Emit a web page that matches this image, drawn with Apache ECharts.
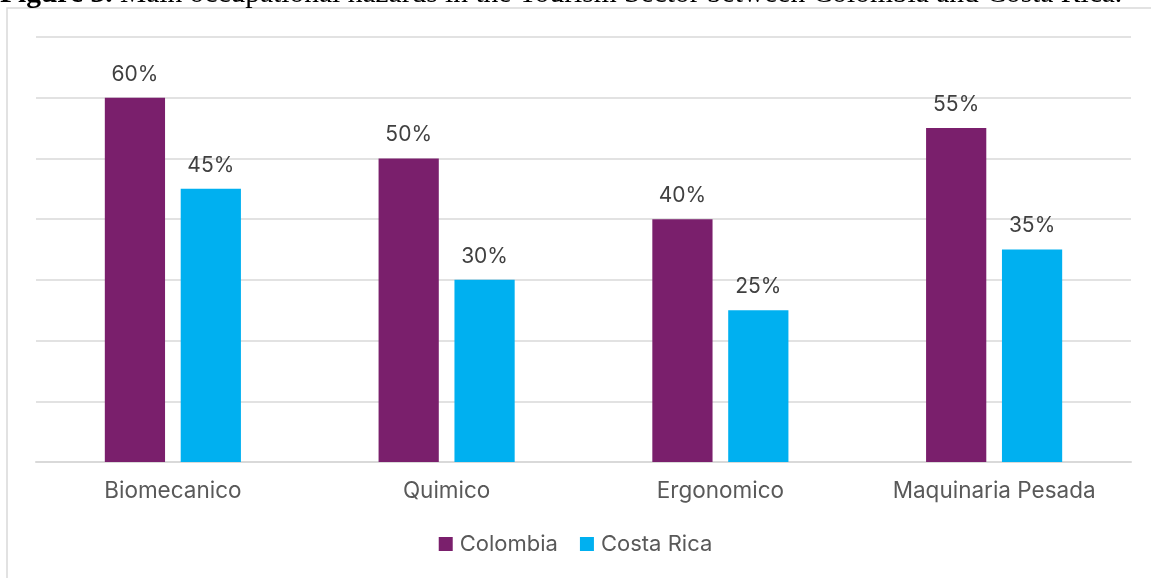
<!DOCTYPE html>
<html>
<head>
<meta charset="utf-8">
<script src="https://cdn.jsdelivr.net/npm/echarts@6/dist/echarts.min.js"></script>
<style>
  html, body { margin: 0; padding: 0; background: #fff; }
  #chart { width: 1151px; height: 578px; }
</style>
</head>
<body>
<div id="chart"></div>
<script>
const categories = ["Biomecanico", "Quimico", "Ergonomico", "Maquinaria Pesada"];
const colombia = [60, 50, 40, 55];
const costaRica = [45, 30, 25, 35];

const chart = echarts.init(document.getElementById("chart"), null, { renderer: "canvas" });

const labelFont = "Inter, 'Noto Sans', sans-serif";

const option = {
  animation: false,
  backgroundColor: "#fff",
  graphic: [
    {
      type: "rect",
      shape: { x: 7, y: 8, width: 1200, height: 620 },
      style: { fill: "none", stroke: "#d9d9d9", lineWidth: 1.5 },
      z: -1
    },
    {
      type: "text",
      left: 0,
      top: -21,
      style: {
        text: "{b|Figure 3.} Main occupational hazards in the Tourism Sector between Colombia and Costa Rica.",
        rich: {
          b: { fontFamily: "'Liberation Serif', serif", fontWeight: "bold", fontSize: 29.5, fill: "#000" }
        },
        fontFamily: "'Liberation Serif', serif",
        fontSize: 29.5,
        fill: "#000"
      }
    }
  ],
  grid: { left: 36, right: 20, top: 37, bottom: 116 },
  legend: {
    bottom: 18,
    left: "center",
    itemWidth: 14,
    itemHeight: 14,
    itemGap: 22,
    icon: "rect",
    textStyle: { fontFamily: labelFont, fontSize: 22, color: "#595959", padding: [0, 0, 0, 2] },
    data: ["Colombia", "Costa Rica"]
  },
  xAxis: {
    type: "category",
    data: categories,
    axisLine: { lineStyle: { color: "#d9d9d9", width: 2 } },
    axisTick: { show: false },
    axisLabel: { fontFamily: labelFont, fontSize: 22.5, color: "#595959", margin: 18 }
  },
  yAxis: {
    type: "value",
    min: 0,
    max: 70,
    interval: 10,
    axisLabel: { show: false },
    axisLine: { show: false },
    axisTick: { show: false },
    splitLine: { lineStyle: { color: "#d9d9d9", width: 1.5 } }
  },
  series: [
    {
      name: "Colombia",
      type: "bar",
      data: colombia,
      barWidth: "22%",
      barGap: "26%",
      itemStyle: { color: "#7a1f6c" },
      label: {
        show: true,
        position: "top",
        distance: 13,
        formatter: "{c}%",
        fontFamily: labelFont,
        fontSize: 21,
        color: "#404040"
      }
    },
    {
      name: "Costa Rica",
      type: "bar",
      data: costaRica,
      barWidth: "22%",
      itemStyle: { color: "#00b0f0" },
      label: {
        show: true,
        position: "top",
        distance: 13,
        formatter: "{c}%",
        fontFamily: labelFont,
        fontSize: 21,
        color: "#404040"
      }
    }
  ]
};

chart.setOption(option);
</script>
</body>
</html>
